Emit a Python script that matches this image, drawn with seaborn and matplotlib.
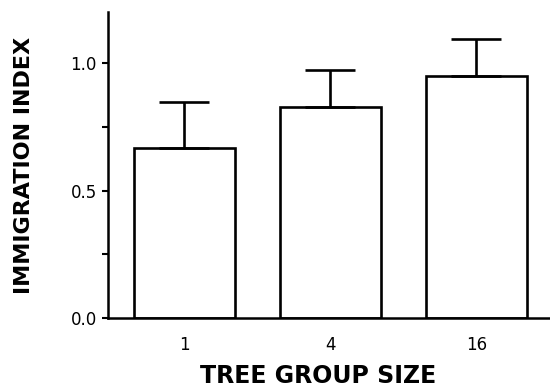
import matplotlib
matplotlib.use("Agg")
import matplotlib.pyplot as plt
import seaborn as sns
import pandas as pd
import numpy as np

group_sizes = ["1", "4", "16"]
immigration_index = [0.667, 0.827, 0.949]
upper_error = [0.848, 0.971, 1.094]

sns.set_theme(style="ticks")
plt.rcParams['font.family'] = ['DejaVu Sans']
plt.rcParams['text.color'] = 'black'
plt.rcParams['axes.labelcolor'] = 'black'

df = pd.DataFrame({"group": group_sizes, "index": immigration_index})

fig = plt.figure(figsize=(5.5, 3.9), dpi=100)
ax = fig.add_axes([0.196, 0.1846, 0.804, 0.7846])

sns.barplot(data=df, x="group", y="index", order=group_sizes, color="white",
            edgecolor="black", linewidth=1.9, width=0.69, errorbar=None, ax=ax,
            saturation=1)
for p in ax.patches:
    p.set_facecolor("white")
    p.set_edgecolor("black")

xpos = np.arange(len(group_sizes))
err = np.array(upper_error) - np.array(immigration_index)
ax.errorbar(xpos, immigration_index, yerr=[np.zeros_like(err), err], fmt="none",
            ecolor="black", elinewidth=1.9, capsize=18, capthick=1.9, zorder=5)

ax.set_ylim(0, 1.2)
ax.set_xlim(-0.525, 2.505)
ax.set_yticks([0.0, 0.5, 1.0])
ax.set_yticklabels(["0.0", "0.5", "1.0"])
ax.set_yticks([0.25, 0.75], minor=True)
ax.tick_params(axis="y", which="both", direction="out", length=4.5, width=1.5,
               labelsize=12, pad=3.5, colors="black")
ax.tick_params(axis="x", length=0, labelsize=12, pad=13, colors="black")

sns.despine(ax=ax)
for s in ["left", "bottom"]:
    ax.spines[s].set_linewidth(1.8)
    ax.spines[s].set_color("black")

ax.set_xlabel("TREE GROUP SIZE", fontsize=17, fontweight="bold", color="black")
ax.xaxis.set_label_coords(0.475, -0.2124)
ax.xaxis.label.set_va("baseline")
ax.set_ylabel("IMMIGRATION INDEX", fontsize=16, fontweight="bold", color="black")
ax.yaxis.set_label_coords(-0.19, 0.498)
ax.yaxis.label.set_va("center")

fig.savefig("out.png", dpi=100)
